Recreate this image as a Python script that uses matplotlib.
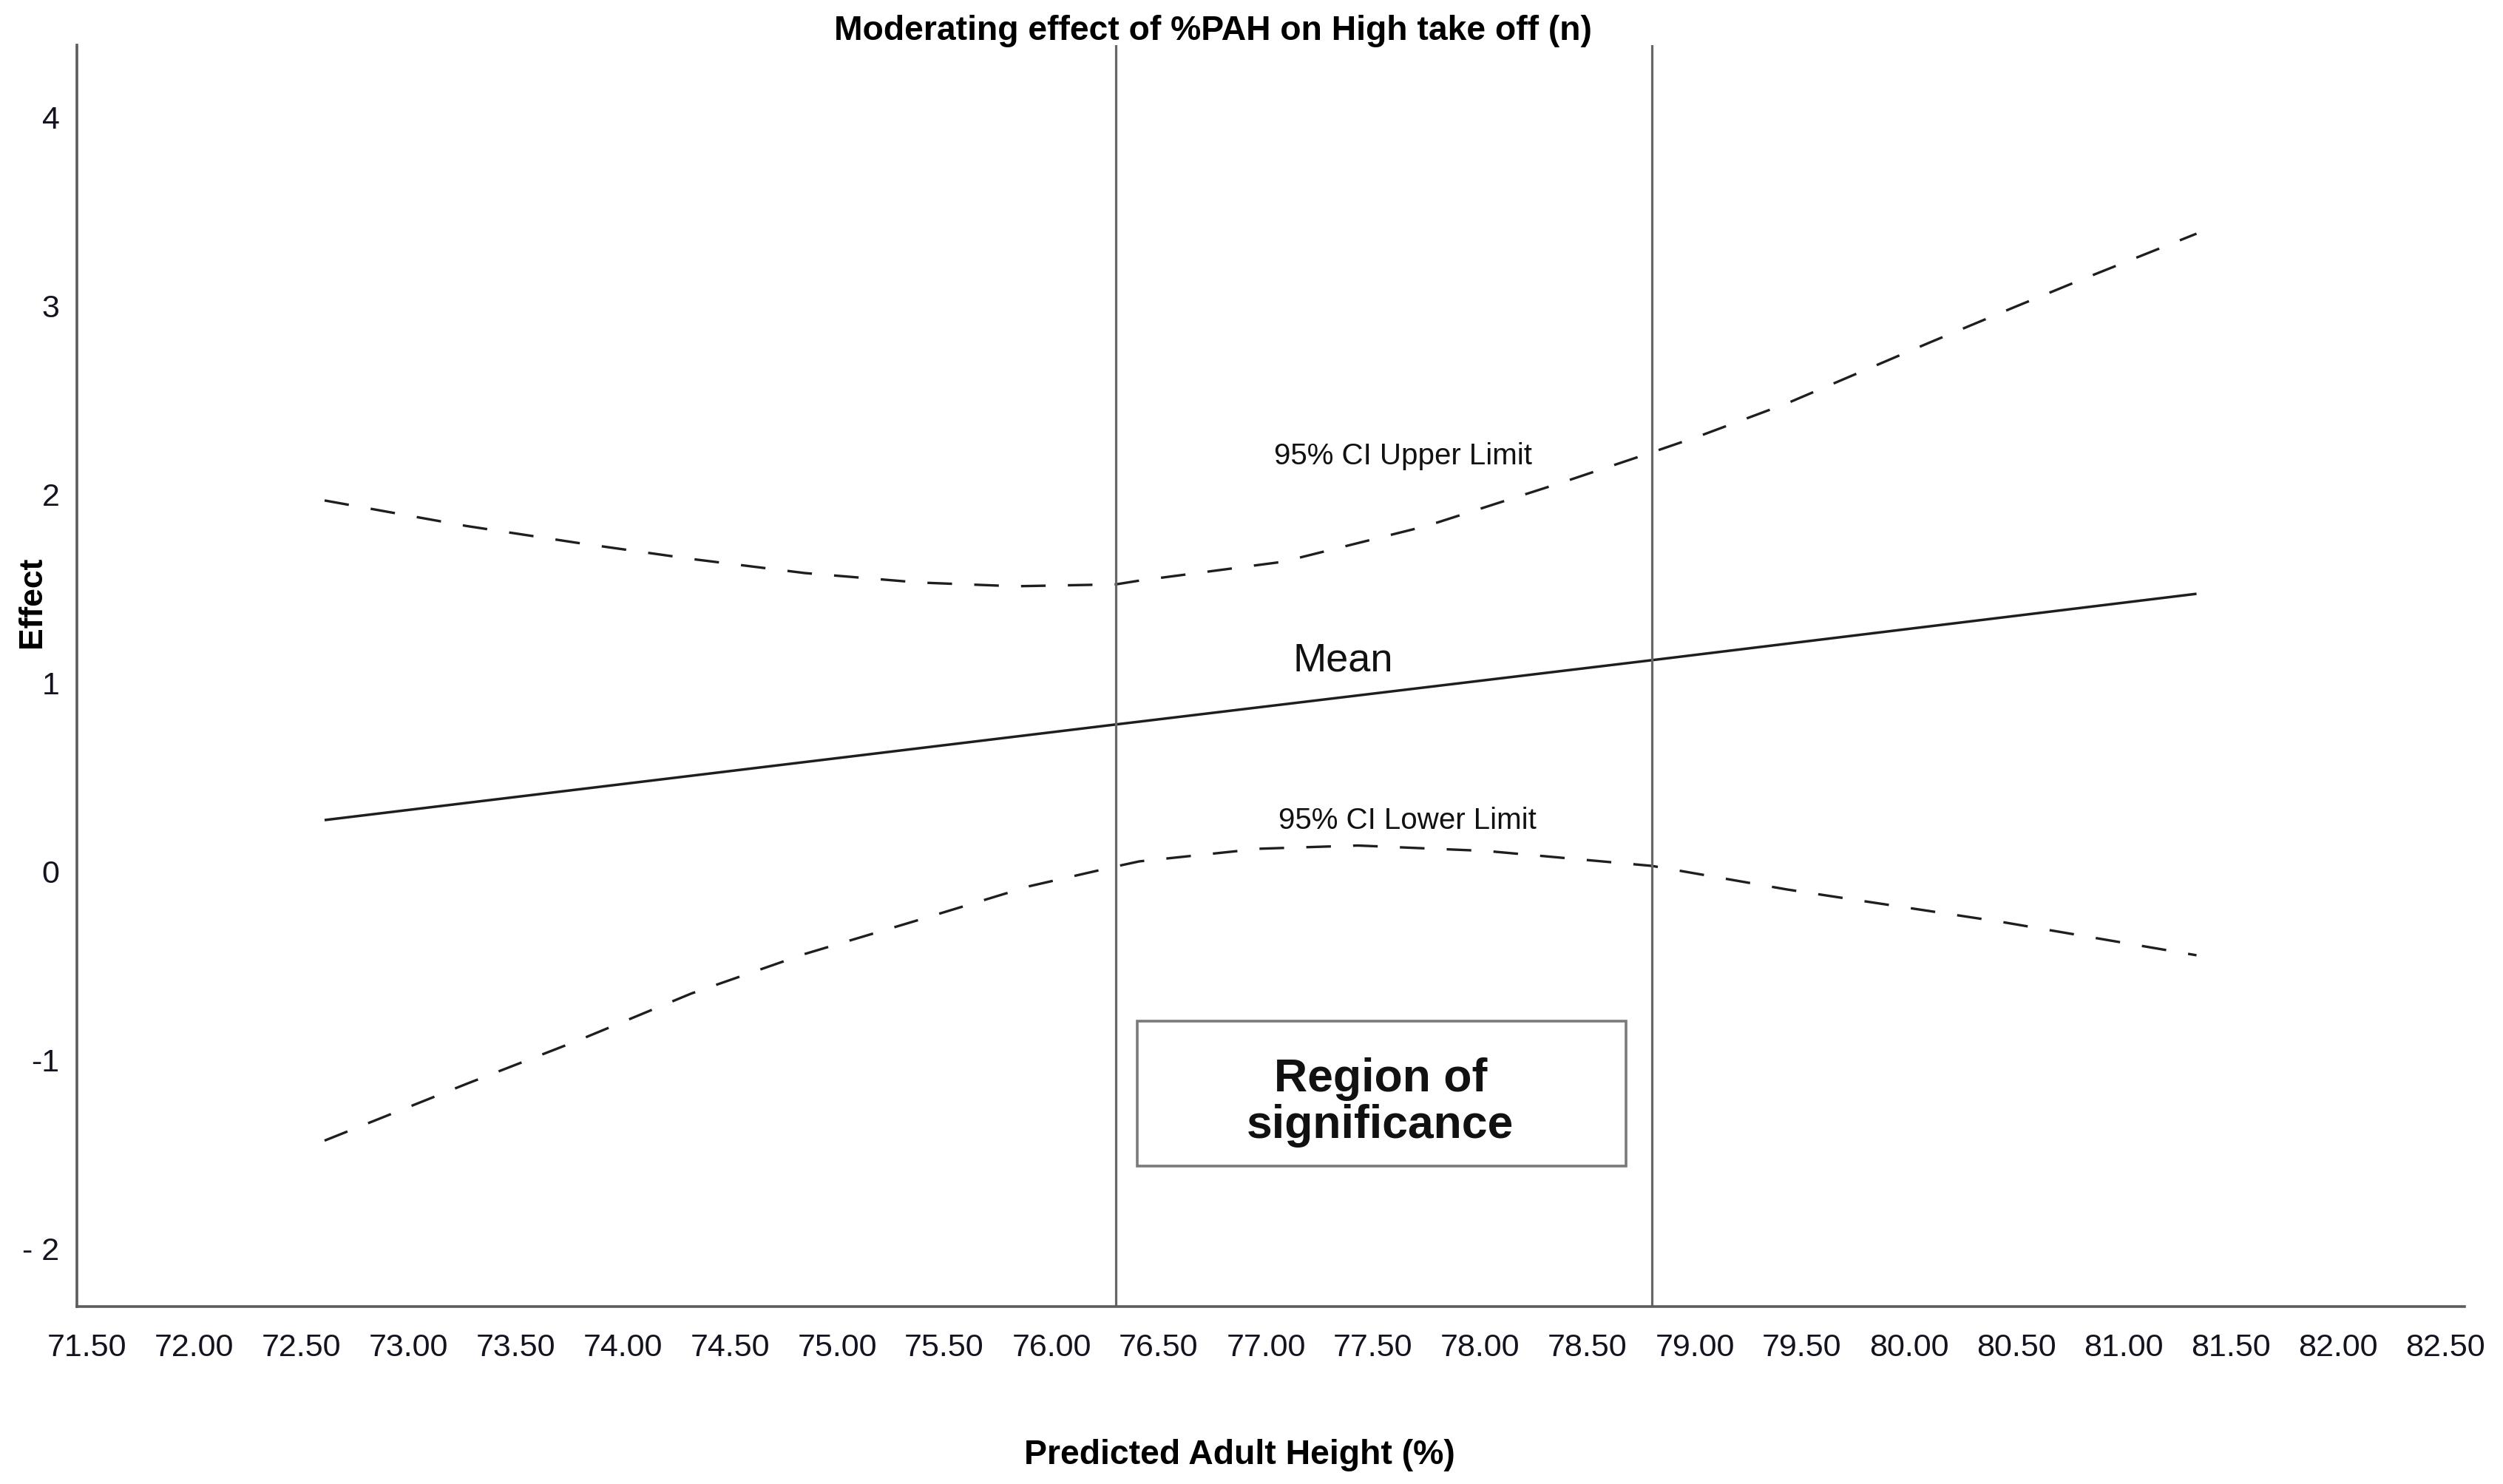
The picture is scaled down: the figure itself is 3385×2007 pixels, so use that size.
import matplotlib
matplotlib.use("Agg")
import matplotlib.pyplot as plt
from matplotlib.patches import Rectangle

plt.rcParams['font.family'] = ['Liberation Sans', 'DejaVu Sans']

# values
mean_x = [72.61, 76.30, 78.80, 81.34]
mean_y = [0.27, 0.777, 1.118, 1.47]

upper_x = [72.61, 73.27, 73.79, 74.32, 74.85, 75.38, 75.83, 76.30, 76.41, 77.08,
           77.75, 78.38, 78.80, 79.03, 79.43, 80.09, 80.49, 80.79, 81.34]
upper_y = [1.965, 1.83, 1.74, 1.655, 1.58, 1.53, 1.51, 1.52, 1.54, 1.64,
           1.83, 2.06, 2.22, 2.31, 2.48, 2.80, 2.99, 3.13, 3.38]

lower_x = [72.61, 73.27, 73.79, 74.32, 74.85, 75.38, 75.90, 76.30, 76.41, 76.97,
           77.43, 78.03, 78.80, 79.43, 79.73, 80.43, 81.34]
lower_y = [-1.43, -1.13, -0.90, -0.65, -0.44, -0.26, -0.08, 0.024, 0.051, 0.118,
           0.135, 0.106, 0.027, -0.098, -0.15, -0.27, -0.447]

# Johnson-Neyman bounds of the region of significance
jn_bounds = [76.30, 78.80]

x_tick_labels = ["71.50", "72.00", "72.50", "73.00", "73.50", "74.00", "74.50",
                 "75.00", "75.50", "76.00", "76.50", "77.00", "77.50", "78.00",
                 "78.50", "79.00", "79.50", "80.00", "80.50", "81.00", "81.50",
                 "82.00", "82.50"]
y_ticks = [-2, -1, 0, 1, 2, 3, 4]
y_tick_labels = ["- 2", "-1", "0", "1", "2", "3", "4"]

W, H = 3385, 2008
fig = plt.figure(figsize=(W / 100, H / 100), dpi=100)
ax = fig.add_axes([104 / W, 1 - 1768 / H, (3333 - 104) / W, (1768 - 62) / H])

line_col = '#1e1e1e'
ax.plot(mean_x, mean_y, color=line_col, lw=2.5, solid_capstyle='butt')
ax.plot(upper_x, upper_y, color=line_col, lw=2.4, ls=(0, (10, 9)))
ax.plot(lower_x, lower_y, color=line_col, lw=2.4, ls=(0, (10, 9)))

for b in jn_bounds:
    ax.axvline(b, color='#666666', lw=2.3)

ax.add_patch(Rectangle((76.40, -1.565), 2.28, 0.769, fill=False,
                       edgecolor='#7a7a7a', lw=2.6))
ax.text(77.534, -1.225, "Region of\nsignificance", ha='center', va='center',
        fontsize=45, fontweight='bold', color='#111111', linespacing=1.08)

ax.text(77.64, 2.204, "95% CI Upper Limit", ha='center', va='center',
        fontsize=29, color='#111111')
ax.text(77.66, 0.27, "95% CI Lower Limit", ha='center', va='center',
        fontsize=29, color='#111111')
ax.text(77.36, 1.12, "Mean", ha='center', va='center', fontsize=39,
        color='#111111')

ax.set_xlim(71.455, 82.59)
ax.set_ylim(-2.31, 4.38)
ax.set_xticks([float(t) for t in x_tick_labels])
ax.set_xticklabels(x_tick_labels)
ax.set_yticks(y_ticks)
ax.set_yticklabels(y_tick_labels)
ax.tick_params(axis='both', length=0, labelsize=31, labelcolor='#141420')
ax.tick_params(axis='x', pad=25)
ax.tick_params(axis='y', pad=17)

for s in ['top', 'right']:
    ax.spines[s].set_visible(False)
for s in ['left', 'bottom']:
    ax.spines[s].set_color('#5c5c5c')
    ax.spines[s].set_linewidth(2.6)

fig.text(1640 / W, 1 - 42 / H, "Moderating effect of %PAH on High take off (n)",
         ha='center', va='center', fontsize=33.3, fontweight='bold')
fig.text(1676 / W, 1 - 1968 / H, "Predicted Adult Height (%)",
         ha='center', va='center', fontsize=33.4, fontweight='bold')
fig.text(43 / W, 1 - 814 / H, "Effect", rotation=90, ha='center', va='center',
         fontsize=32, fontweight='bold')

fig.savefig("out.png", dpi=100, facecolor='white')
